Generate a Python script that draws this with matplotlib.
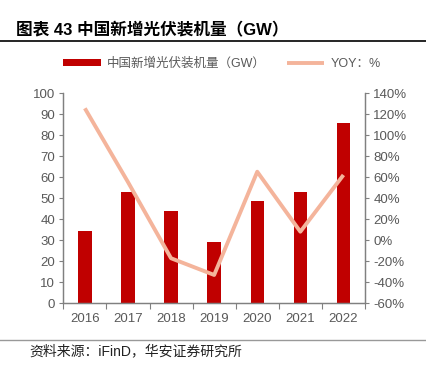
import matplotlib
matplotlib.use("Agg")
import matplotlib.pyplot as plt
import numpy as np

plt.rcParams['font.family'] = ['Liberation Sans', 'Noto Sans CJK SC', 'DejaVu Sans']

# data
years = ['2016', '2017', '2018', '2019', '2020', '2021', '2022']
capacity_gw = [34.2, 52.9, 44.1, 29.4, 48.7, 52.9, 86.0]
yoy_pct = [125.7, 55.5, -17.1, -33.0, 65.3, 8.2, 62.2]

bar_color = '#C00000'
line_color = '#F4B49B'
axis_color = '#808080'
text_color = '#595959'

fig = plt.figure(figsize=(4.26, 3.66), dpi=100)
ax = fig.add_axes([0.1486, 0.1713, 0.7082, 0.5738])
ax2 = ax.twinx()

x = np.arange(len(years))
ax.bar(x, capacity_gw, width=0.31, color=bar_color, label='中国新增光伏装机量（GW）', zorder=2)
ax2.plot(x, yoy_pct, color=line_color, linewidth=2.8, label='YOY：%', solid_capstyle='butt', zorder=3)

ax.set_xlim(-0.5, len(years) - 0.5)
ax.set_ylim(0, 100)
ax.set_yticks(np.arange(0, 101, 10))
ax2.set_ylim(-60, 140)
ax2.set_yticks(np.arange(-60, 141, 20))
ax2.set_yticklabels([f'{v}%' for v in range(-60, 141, 20)])

ax.set_xticks(x)
ax.set_xticklabels(years)
ax.set_xticks(np.arange(-0.5, len(years), 1), minor=True)
ax.tick_params(axis='x', which='major', length=0, pad=7, labelsize=9.5, labelcolor=text_color)
ax.tick_params(axis='x', which='minor', length=4, color=axis_color, width=0.8)
ax.tick_params(axis='y', length=3, color=axis_color, width=0.8, labelsize=9.5, labelcolor=text_color, pad=3)
ax2.tick_params(axis='y', length=3, color=axis_color, width=0.8, labelsize=9.5, labelcolor=text_color, pad=3)

for a in (ax, ax2):
    a.spines['top'].set_visible(False)
    for s in ('left', 'right', 'bottom'):
        a.spines[s].set_color(axis_color)
        a.spines[s].set_linewidth(0.9)

# legend
h1, l1 = ax.get_legend_handles_labels()
h2, l2 = ax2.get_legend_handles_labels()
fig.legend(h1 + h2, l1 + l2, loc='center', bbox_to_anchor=(0.521, 0.826), ncol=2, frameon=False,
           fontsize=9, labelcolor=text_color, handlelength=3.0, handleheight=0.5,
           columnspacing=1.7, handletextpad=0.5)

# title and frame lines
fig.text(0.037, 0.918, '图表 43 中国新增光伏装机量（GW）', fontsize=12, fontweight='bold',
         color='#000000', ha='left', va='center')
fig.add_artist(plt.Line2D([0, 1], [0.888, 0.888], color='#000000', linewidth=1.2))
fig.add_artist(plt.Line2D([0, 1], [0.071, 0.071], color='#999999', linewidth=1.0))
fig.text(0.07, 0.040, '资料来源：iFinD，华安证券研究所', fontsize=10, color='#222222',
         ha='left', va='center')

fig.savefig('out.png', dpi=100)
